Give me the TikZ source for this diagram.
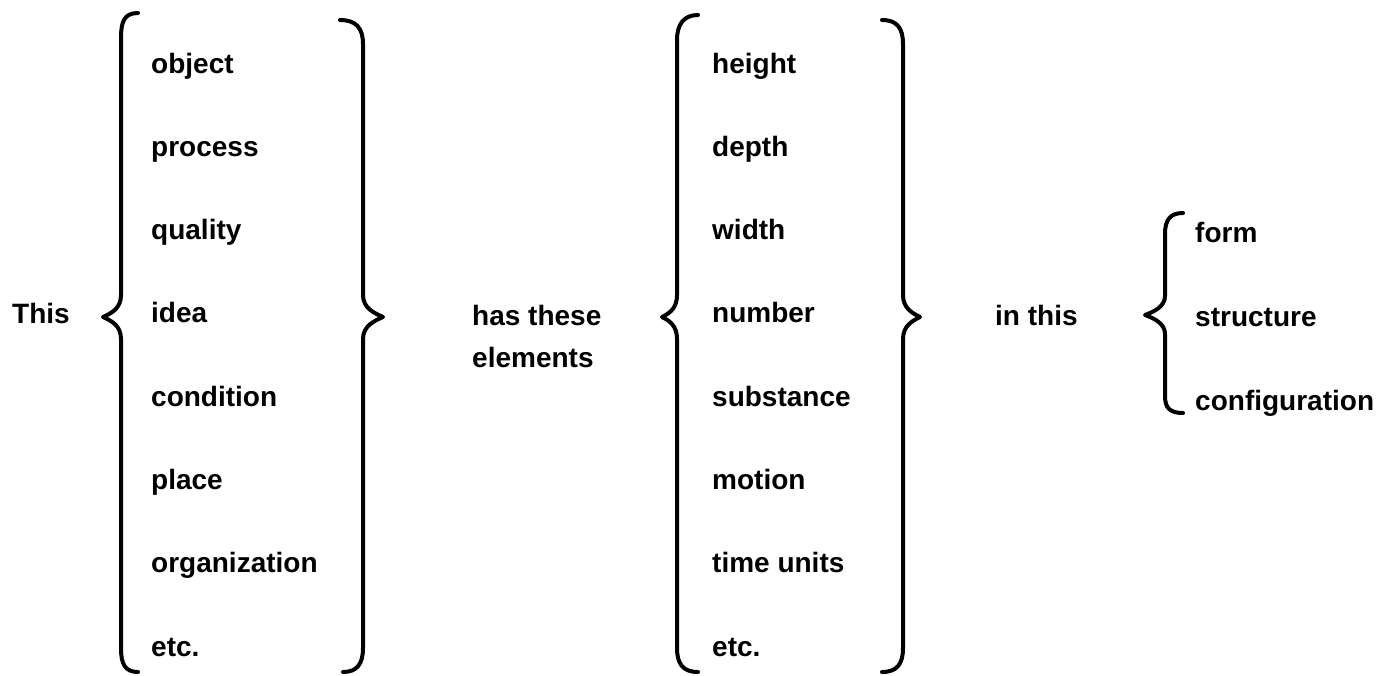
\documentclass[tikz,border=0pt]{standalone}
\usepackage{fontspec}
\setmainfont{Liberation Sans}
\begin{document}
\begin{tikzpicture}[x=1pt,y=-1pt,
  lbl/.style={anchor=base west,inner sep=0pt,font=\fontsize{28}{34}\selectfont\bfseries},
  bracepath/.style={line width=4pt,line cap=round,line join=round}]
\useasboundingbox (0,0) rectangle (1386,675);

% leading words
\node[lbl] (this) at (12,323) {This};
\node[lbl] (has) at (472,325) {has these};
\node[lbl] (elem) at (472,367) {elements};
\node[lbl] (inthis) at (995,325) {in this};

% first list
\foreach \t [count=\i from 0] in {object,process,quality,idea,condition,place,organization,etc.}
  \node[lbl] (a\i) at (151,73+83.3*\i) {\t};

% second list
\foreach \t [count=\i from 0] in {height,depth,width,number,substance,motion,time units,etc.}
  \node[lbl] (b\i) at (712,73+83.3*\i) {\t};

% third list
\node[lbl] (c0) at (1195,242) {form};
\node[lbl] (c1) at (1195,326) {structure};
\node[lbl] (c2) at (1195,410) {configuration};

% braces around the first list
\draw[bracepath] (138,13) .. controls (124,13) and (121,22) .. (121,38) -- (121,295)
  .. controls (121,308) and (112,313) .. (103,317)
  .. controls (112,321) and (121,326) .. (121,339) -- (121,648)
  .. controls (121,664) and (125,672) .. (138,672);
\draw[bracepath] (340,20) .. controls (356,20) and (363,28) .. (363,44) -- (363,295)
  .. controls (363,308) and (374,313) .. (383,317)
  .. controls (374,321) and (363,326) .. (363,339) -- (363,648)
  .. controls (363,664) and (357,672) .. (343,672);

% braces around the second list
\draw[bracepath] (698,15) .. controls (684,15) and (677,24) .. (677,40) -- (677,295)
  .. controls (677,308) and (670,313) .. (662,317)
  .. controls (670,321) and (677,326) .. (677,339) -- (677,648)
  .. controls (677,664) and (683,672) .. (698,672);
\draw[bracepath] (882,20) .. controls (897,20) and (903,28) .. (903,44) -- (903,295)
  .. controls (903,308) and (912,313) .. (920,317)
  .. controls (912,321) and (903,326) .. (903,339) -- (903,648)
  .. controls (903,664) and (897,672) .. (882,672);

% brace before the third list
\draw[bracepath] (1183,213) .. controls (1170,213) and (1165,220) .. (1165,234) -- (1165,296)
  .. controls (1165,307) and (1153,312) .. (1145,315)
  .. controls (1153,318) and (1165,323) .. (1165,334) -- (1165,396)
  .. controls (1165,408) and (1170,413) .. (1183,413);
\end{tikzpicture}
\end{document}
